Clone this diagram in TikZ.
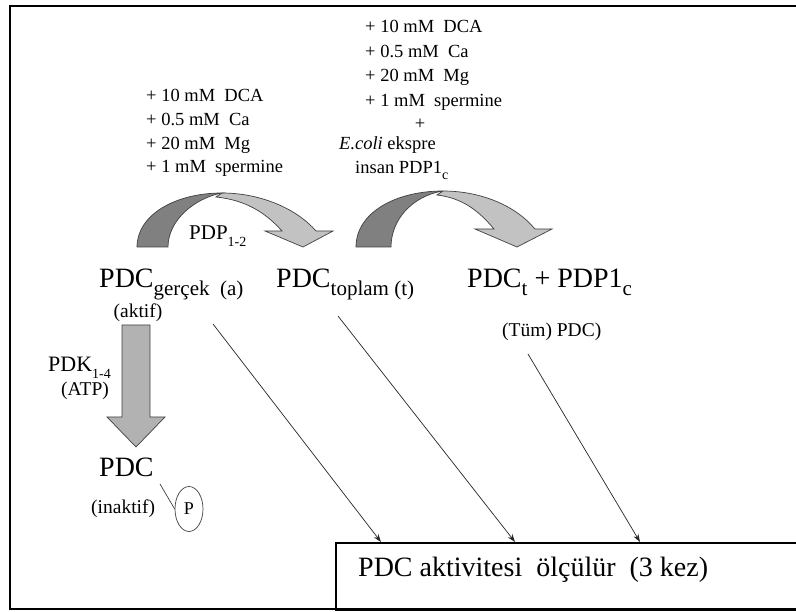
\documentclass[tikz,border=0pt]{standalone}
\usepackage{fontspec}
\setmainfont{Liberation Serif}
\usetikzlibrary{arrows.meta,shapes.geometric}
\newcommand\bsub[1]{\raisebox{-0.28em}{\fontsize{21}{21}\selectfont #1}}
\newcommand\ssub[1]{\raisebox{-0.3em}{\fontsize{14}{14}\selectfont #1}}
\begin{document}
\begin{tikzpicture}[x=1pt,y=-1pt,
 txt/.style={inner sep=0pt, anchor=base west, font=\fontsize{18.5}{22}\selectfont},
 big/.style={inner sep=0pt, anchor=base west, font=\fontsize{28}{32}\selectfont},
 mid/.style={inner sep=0pt, anchor=base west, font=\fontsize{19.5}{22}\selectfont},
 darkpart/.style={fill=black!50, draw=black!75, line width=0.7pt},
 lightpart/.style={fill=black!24, draw=black!75, line width=0.7pt},
 downarrow/.style={fill=black!30, draw=black!75, line width=0.7pt},
 thinarrow/.style={draw=black!85, line width=0.7pt, -{Stealth[length=8pt,width=5.5pt]}},
]
\useasboundingbox (0,0) rectangle (796,612);
\clip (0,0) rectangle (796,612);
\fill[white] (0,0) rectangle (796,612);
\draw[line width=1.6pt] (10,6) rectangle (830,609);

% top-right block
\node[txt] (r1) at (365,33) {+ 10 mM\ \ DCA};
\node[txt] (r2) at (365,57.5) {+ 0.5 mM\ \ Ca};
\node[txt] (r3) at (365,82) {+ 20 mM\ \ Mg};
\node[txt] (r4) at (365,106.5) {+ 1 mM\ \ spermine};
\node[txt, anchor=base] (r5) at (420,130) {+};
\node[txt] (r6) at (339,150) {\textit{E.coli} ekspre};
\node[txt] (r7) at (355,173.5) {insan PDP1\ssub{c}};

% left block
\node[txt] (l1) at (146,102) {+ 10 mM\ \ DCA};
\node[txt] (l2) at (146,125.5) {+ 0.5 mM\ \ Ca};
\node[txt] (l3) at (146,149.5) {+ 20 mM\ \ Mg};
\node[txt] (l4) at (146,173) {+ 1 mM\ \ spermine};

% curved arrow 1
\path[lightpart] (222,193) .. controls (258,193) and (295,207) .. (316,231)
  -- (333,231) -- (303,247) -- (265,231) -- (282,231)
  .. controls (265,212) and (245,200) .. (216,197) -- cycle;
\path[darkpart] (137,247) .. controls (137,215) and (175,193) .. (222,193)
  .. controls (195,198) and (168,220) .. (168,247) -- cycle;
\node[inner sep=0pt, anchor=base west, font=\fontsize{21}{24}\selectfont] (pdp) at (189,240) {PDP\ssub{1-2}};

% curved arrow 2
\path[lightpart] (443,191) .. controls (480,191) and (515,205) .. (535,229)
  -- (552,229) -- (517,247) -- (475,229) -- (494,229)
  .. controls (478,210) and (462,198) .. (437,195) -- cycle;
\path[darkpart] (356,247) .. controls (356,213) and (395,191) .. (443,191)
  .. controls (412,196) and (391,220) .. (391,247) -- cycle;

% main labels
\node[big] (pa) at (99,288) {PDC\bsub{gerçek\ \ (a)}};
\node[big] (pt) at (276,288) {PDC\bsub{toplam (t)}};
\node[big] (pc) at (467,288) {PDC\bsub{t} + PDP1\bsub{c}};
\node[mid, anchor=base] (akt) at (138,318) {(aktif)};
\node[mid] (tum) at (502,337) {(Tüm) PDC)};

% PDK down arrow
\path[downarrow] (122,325) -- (150,325) -- (150,417) -- (165,417) -- (136,447)
  -- (107,417) -- (122,417) -- cycle;
\node[inner sep=0pt, anchor=base west, font=\fontsize{22}{24}\selectfont] (pdk) at (48,372) {PDK\ssub{1-4}};
\node[mid] (atp) at (61,396) {(ATP)};

% inactive PDC
\node[big] (pi) at (99,477) {PDC};
\node[mid] (inak) at (91,514) {(inaktif)};
\node[draw=black!75, line width=0.7pt, ellipse, minimum width=28pt, minimum height=45pt,
  inner sep=0pt, font=\fontsize{18}{20}\selectfont] (pe) at (189,509) {P};
\coordinate (tk) at (160,484);
\draw[black!75, line width=0.7pt] (tk) -- (pe.west);

% result box
\node[draw, line width=1.6pt, anchor=north west, minimum width=500pt, minimum height=67pt,
  inner sep=0pt] (box) at (335,542) {};
\node[big] (boxt) at (358,576) {PDC aktivitesi\ \ ölçülür\ \ (3 kez)};

% thin arrows
\coordinate (s1) at (213,324);
\coordinate (s2) at (338,316);
\coordinate (s3) at (528,354);
\coordinate (e1) at (381,542);
\coordinate (e2) at (515,542);
\coordinate (e3) at (640,542);
\draw[thinarrow] (s1) -- (e1);
\draw[thinarrow] (s2) -- (e2);
\draw[thinarrow] (s3) -- (e3);
\end{tikzpicture}
\end{document}
